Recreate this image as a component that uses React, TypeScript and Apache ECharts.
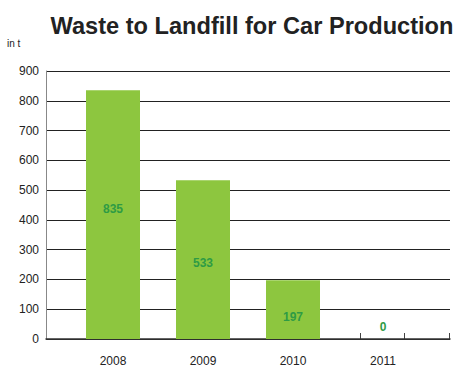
import React, { useEffect, useRef } from "react";
import * as echarts from "echarts";

const years = ["2008", "2009", "2010", "2011"];
const values = [835, 533, 197, 0];
const labelDistances = [124, 70, 16, 6];
const yMin = 0;
const yMax = 900;
const yStep = 100;

const FONT = "'Liberation Sans', Arial, Helvetica, sans-serif";

export default function App() {
  const ref = useRef<HTMLDivElement>(null);
  useEffect(() => {
    if (!ref.current) return;
    const chart = echarts.init(ref.current, undefined, { renderer: "svg" });
    const tickLine = (x: number) => ({
      type: "line",
      shape: { x1: x, y1: 333, x2: x, y2: 339 },
      style: { stroke: "#444", lineWidth: 1 },
    });
    chart.setOption({
      animation: false,
      backgroundColor: "#fff",
      textStyle: { fontFamily: FONT },
      title: {
        text: "Waste to Landfill for Car Production",
        left: 247,
        textAlign: "center",
        top: 9,
        textStyle: { fontSize: 23.6, fontWeight: "bold", color: "#222", fontFamily: FONT },
      },
      graphic: [
        {
          type: "text",
          left: 7,
          top: 38,
          style: { text: "in t", fontSize: 10, fill: "#222", fontFamily: FONT },
        },
        tickLine(360.5),
        tickLine(404.5),
        tickLine(449.5),
      ],
      grid: [
        { left: 46, right: 4, top: 71, bottom: 28 },
        { left: 68, right: 26, top: 71, bottom: 28 },
      ],
      xAxis: [
        {
          type: "value",
          gridIndex: 0,
          min: 0,
          max: 1,
          axisLine: { show: true, lineStyle: { color: "#333", width: 1.5 } },
          axisTick: { show: false },
          axisLabel: { show: false },
          splitLine: { show: false },
        },
        {
          type: "category",
          gridIndex: 1,
          data: years,
          axisLine: { show: false },
          axisTick: { show: false },
          axisLabel: { margin: 16, fontSize: 12, color: "#222", fontFamily: FONT },
        },
      ],
      yAxis: [
        {
          type: "value",
          gridIndex: 0,
          min: yMin,
          max: yMax,
          interval: yStep,
          axisLine: { show: true, lineStyle: { color: "#888", width: 1 } },
          axisTick: { show: false },
          axisLabel: { margin: 7, fontSize: 12, color: "#222", fontFamily: FONT },
          splitLine: { show: true, lineStyle: { color: "#222", width: 1 } },
        },
        {
          type: "value",
          gridIndex: 1,
          min: yMin,
          max: yMax,
          interval: yStep,
          show: false,
          splitLine: { show: false },
        },
      ],
      series: [
        {
          type: "bar",
          xAxisIndex: 1,
          yAxisIndex: 1,
          barWidth: 54,
          itemStyle: { color: "#8dc63f" },
          data: values.map((v, i) => ({
            value: v,
            label: {
              show: true,
              position: "insideBottom",
              distance: labelDistances[i],
              color: "#2e9b45",
              fontWeight: "bold",
              fontSize: 12,
              fontFamily: FONT,
            },
          })),
        },
      ],
    });
    return () => chart.dispose();
  }, []);
  return (
    <div
      ref={ref}
      style={{ position: "fixed", left: 0, top: 0, width: 454, height: 367 }}
    />
  );
}
